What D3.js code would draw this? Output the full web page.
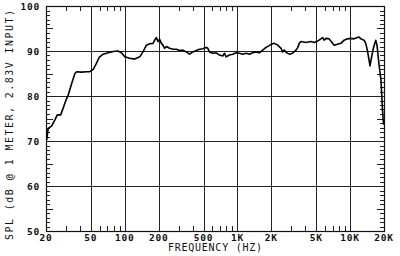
<!DOCTYPE html>
<html>
<head>
<meta charset="utf-8">
<script src="https://cdn.jsdelivr.net/npm/d3@7"></script>
<style>
  body { margin: 0; background: #fff; }
  svg { display: block; }
  text { font-family: "DejaVu Sans Mono", "Liberation Mono", monospace; fill: #111; }
</style>
</head>
<body>
<svg width="400" height="256"></svg>
<script>
// frequency response (Hz, dB SPL)
var freq = [20.3, 20.9, 22.4, 24.0, 25.2, 27.0, 28.4, 30.1, 31.5, 33.8, 36.1, 37.4, 41.4, 45.8, 49.0,
  52.5, 56.2, 59.3, 64.3, 71.2, 78.9, 87.3, 93.5, 100, 110.7, 122.7, 135.8, 145.2, 155.7, 166.5,
  178.2, 184.4, 190.9, 197.2, 204.1, 211.3, 218.3, 225.9, 233.9, 250.1, 267.7, 287.0, 306.9, 328.2,
  351.6, 375.9, 402.7, 431.5, 461.3, 493.3, 528.5, 546, 565, 605, 648, 693, 741, 768, 794, 850, 910,
  975, 1042, 1115, 1194, 1277, 1367, 1465, 1566, 1676, 1796, 1920, 1987, 2128, 2277, 2439, 2519,
  2607, 2698, 2885, 3085, 3310, 3420, 3541, 3665, 4058, 4490, 4808, 5142, 5508, 5690, 5888, 6095,
  6520, 6745, 7230, 7730, 8280, 8855, 9465, 10140, 10860, 11615, 12020, 12440, 13310, 13770, 14230,
  14730, 15030, 15450, 16080, 16900, 17340, 18070, 18800, 19400, 19820];
var spl = [70.2, 72.8, 73.3, 74.7, 75.8, 75.8, 77.3, 79.1, 80.2, 82.8, 85.0, 85.4, 85.3, 85.4, 85.4,
  85.9, 87.3, 88.6, 89.3, 89.6, 89.9, 90.0, 89.6, 88.7, 88.4, 88.2, 88.7, 89.8, 91.3, 91.6,
  91.7, 92.4, 93.0, 92.1, 92.6, 91.7, 91.3, 90.6, 91.0, 90.6, 90.4, 90.4, 90.1, 90.2,
  89.8, 89.3, 89.8, 90.1, 90.4, 90.5, 90.8, 90.6, 89.8, 89.5, 89.6, 89.1, 88.9, 89.5, 88.7, 89.1, 89.3,
  89.6, 89.5, 89.3, 89.5, 89.3, 89.6, 89.8, 89.6, 90.2, 90.8, 91.2, 91.5, 91.7, 91.3, 90.6, 89.8,
  90.2, 89.7, 89.3, 89.5, 90.2, 90.7, 91.7, 92.1, 91.9, 92.1, 91.9, 92.2, 92.7, 93.0, 92.4, 92.8,
  92.7, 92.2, 91.3, 91.5, 91.7, 92.4, 92.7, 92.8, 92.7, 93.0, 93.1, 92.7, 92.4, 91.7, 90.2,
  88.0, 86.7, 88.4, 90.6, 92.4, 91.3, 86.9, 83.6, 76.9, 73.6];

var xMajor = [50, 100, 200, 500, 1000, 2000, 5000, 10000];
var xLabelVals = [20, 50, 100, 200, 500, 1000, 2000, 5000, 10000, 20000];
var xLabels = ['20', '50', '100', '200', '500', '1K', '2K', '5K', '10K', '20K'];
var xMinor = [30, 40, 60, 70, 80, 90, 300, 400, 600, 700, 800, 900, 3000, 4000, 6000, 7000, 8000, 9000];
var yMajor = [50, 60, 70, 80, 90, 100];

var svg = d3.select('svg');
var pLeft = 46, pRight = 384, pTop = 6, pBottom = 231;

var x = d3.scaleLog().domain([20, 20000]).range([pLeft, pRight]);
var y = d3.scaleLinear().domain([50, 100]).range([pBottom, pTop]);

var grid = svg.append('g').attr('stroke', '#222').attr('stroke-width', 1);

// grid lines
grid.selectAll('.vx').data(xMajor).enter().append('line')
  .attr('x1', function(d) { return Math.round(x(d)) + 0.5; })
  .attr('x2', function(d) { return Math.round(x(d)) + 0.5; })
  .attr('y1', pTop).attr('y2', pBottom);
grid.selectAll('.hy').data(yMajor.slice(1, -1)).enter().append('line')
  .attr('y1', function(d) { return Math.round(y(d)) + 0.5; })
  .attr('y2', function(d) { return Math.round(y(d)) + 0.5; })
  .attr('x1', pLeft).attr('x2', pRight);

// minor ticks top and bottom
xMinor.forEach(function(f) {
  var px = Math.round(x(f)) + 0.5;
  grid.append('line').attr('x1', px).attr('x2', px).attr('y1', pBottom).attr('y2', pBottom - 5);
  grid.append('line').attr('x1', px).attr('x2', px).attr('y1', pTop).attr('y2', pTop + 5);
});

// 1 dB ticks on both sides
d3.range(51, 100).forEach(function(v) {
  if (v % 10 === 0) return;
  var py = Math.round(y(v)) + 0.5;
  var len = v % 5 === 0 ? 7 : 4;
  grid.append('line').attr('x1', pLeft).attr('x2', pLeft + len).attr('y1', py).attr('y2', py);
  grid.append('line').attr('x1', pRight).attr('x2', pRight - len).attr('y1', py).attr('y2', py);
});

// frame
svg.append('rect')
  .attr('x', pLeft + 0.5).attr('y', pTop + 0.5)
  .attr('width', pRight - pLeft).attr('height', pBottom - pTop)
  .attr('fill', 'none').attr('stroke', '#111').attr('stroke-width', 1.2);

// response curve
var line = d3.line()
  .x(function(d) { return x(d[0]); })
  .y(function(d) { return y(d[1]); });
svg.append('path')
  .datum(d3.zip(freq, spl))
  .attr('d', line)
  .attr('fill', 'none')
  .attr('stroke', '#000')
  .attr('stroke-width', 1.6)
  .attr('stroke-linejoin', 'round');

// tick labels
svg.selectAll('.ylab').data(yMajor).enter().append('text')
  .attr('x', 40).attr('y', function(d) { return y(d) + 3.5; })
  .attr('text-anchor', 'end')
  .attr('font-size', 9.5).attr('font-weight', 'bold').attr('letter-spacing', 0.8)
  .text(function(d) { return d; });

svg.selectAll('.xlab').data(xLabelVals).enter().append('text')
  .attr('x', function(d) { return x(d); }).attr('y', 241)
  .attr('text-anchor', 'middle')
  .attr('font-size', 9.5).attr('font-weight', 'bold').attr('letter-spacing', 0.8)
  .text(function(d, i) { return xLabels[i]; });

// axis titles
svg.append('text')
  .attr('x', 215).attr('y', 251)
  .attr('text-anchor', 'middle')
  .attr('font-size', 10)
  .attr('textLength', 94).attr('lengthAdjust', 'spacing')
  .text('FREQUENCY (HZ)');

svg.append('text')
  .attr('transform', 'translate(13,125) rotate(-90)')
  .attr('text-anchor', 'middle')
  .attr('font-size', 10)
  .attr('textLength', 230).attr('lengthAdjust', 'spacing')
  .text('SPL (dB @ 1 METER, 2.83V INPUT)');
</script>
</body>
</html>
